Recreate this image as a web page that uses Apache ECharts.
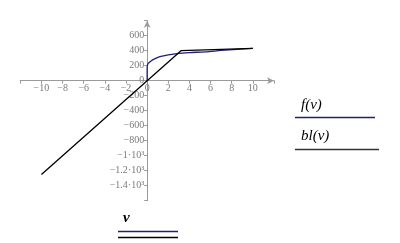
<!DOCTYPE html>
<html><head><meta charset="utf-8">
<script src="https://cdn.jsdelivr.net/npm/echarts@6/dist/echarts.min.js"></script>
<style>html,body{margin:0;padding:0;background:#fff}#c{width:400px;height:243px}</style>
</head><body><div id="c"></div>
<script>
// Data
var fV = [0, 0, 0.02, 0.1, 0.4, 0.7, 1.2, 2, 3, 4, 5.5, 7, 8.5, 10];
var fVal = [0, 150, 200, 230, 267, 290, 320, 345, 365, 375, 385, 403, 418, 432];
var blV = [-10, 0, 3.2, 10];
var blVal = [-1250, 0, 400, 432];
var xTickValues = [-10, -8, -6, -4, -2, 0, 2, 4, 6, 8, 10];
var xTickLabels = ['\u221210', '\u22128', '\u22126', '\u22124', '\u22122', '0', '2', '4', '6', '8', '10'];
var yTickValues = [600, 400, 200, 0, -200, -400, -600, -800, -1000, -1200, -1400];
var yTickLabels = ['600', '400', '200', '0', '\u2212200', '\u2212400', '\u2212600', '\u2212800', '\u22121\u00b710\u00b3', '\u22121.2\u00b710\u00b3', '\u22121.4\u00b710\u00b3'];
var legendNames = ['f(v)', 'bl(v)'];
var xAxisTitle = 'v';

function pairs(a, b) { return a.map(function (v, i) { return [v, b[i]]; }); }
function lookup(vals, labels) {
  return function (v) { var i = vals.indexOf(Math.round(v * 1000) / 1000); return i < 0 ? '' : labels[i]; };
}
var G = {left: 20.3, right: 126, top: 20.7, bottom: 42.3};
var W = 400, H = 243;
var xMin = -12, xMax = 12, yMin = -1600, yMax = 800;
// offsets so axes cross at the origin (computed from grid + ranges)
var gw = W - G.left - G.right, gh = H - G.top - G.bottom;
var xAxisOffset = -((0 - yMin) / (yMax - yMin)) * gh;
var yAxisOffset = -((0 - xMin) / (xMax - xMin)) * gw;
var axisFont = 'Liberation Serif';
var chart = echarts.init(document.getElementById('c'), null, {renderer: 'canvas'});
chart.setOption({
  animation: false,
  grid: {left: G.left, right: G.right, top: G.top, bottom: G.bottom, containLabel: false, outerBoundsMode: 'none'},
  xAxis: {
    type: 'value', min: xMin, max: xMax, interval: 2, position: 'bottom', offset: xAxisOffset,
    axisLine: {onZero: false, symbol: ['none', 'arrow'], symbolSize: [5, 7], lineStyle: {color: '#9a9a9a', width: 1}},
    axisTick: {show: true, length: 3, inside: false, lineStyle: {color: '#9a9a9a'}},
    axisLabel: {color: '#7a7a7a', fontFamily: axisFont, fontSize: 10, margin: 3, formatter: lookup(xTickValues, xTickLabels)},
    splitLine: {show: false}
  },
  yAxis: {
    type: 'value', min: yMin, max: yMax, interval: 200, position: 'left', offset: yAxisOffset,
    axisLine: {show: true, onZero: false, symbol: ['none', 'arrow'], symbolSize: [5, 7], lineStyle: {color: '#9a9a9a', width: 1}},
    axisTick: {show: true, length: 3, inside: false, lineStyle: {color: '#9a9a9a'}},
    axisLabel: {color: '#7a7a7a', fontFamily: axisFont, fontSize: 10, margin: 3, formatter: lookup(yTickValues, yTickLabels)},
    splitLine: {show: false}
  },
  series: [
    {name: legendNames[0], type: 'line', data: pairs(fV, fVal), showSymbol: false, smooth: 0.3,
     lineStyle: {color: '#1f1f7a', width: 1.3}, itemStyle: {color: '#1f1f7a'}},
    {name: legendNames[1], type: 'line', data: pairs(blV, blVal), showSymbol: false,
     lineStyle: {color: '#000000', width: 1.3}, itemStyle: {color: '#000'}}
  ],
  graphic: [
    {type: 'text', left: 301, top: 98, style: {text: legendNames[0], font: 'italic 15px "Liberation Serif"', fill: '#000'}},
    {type: 'line', shape: {x1: 295, y1: 117.5, x2: 375, y2: 117.5}, style: {stroke: '#1f1f7a', lineWidth: 1.3}},
    {type: 'text', left: 301, top: 129, style: {text: legendNames[1], font: 'italic 15px "Liberation Serif"', fill: '#000'}},
    {type: 'line', shape: {x1: 295, y1: 149.5, x2: 379, y2: 149.5}, style: {stroke: '#333', lineWidth: 1.3}},
    {type: 'text', left: 123, top: 211, style: {text: xAxisTitle, font: 'italic bold 15px "Liberation Serif"', fill: '#000'}},
    {type: 'line', shape: {x1: 118, y1: 231.5, x2: 178, y2: 231.5}, style: {stroke: '#1f1f7a', lineWidth: 1.3}},
    {type: 'line', shape: {x1: 118, y1: 237.5, x2: 178, y2: 237.5}, style: {stroke: '#000', lineWidth: 1.3}}
  ]
});
</script></body></html>
